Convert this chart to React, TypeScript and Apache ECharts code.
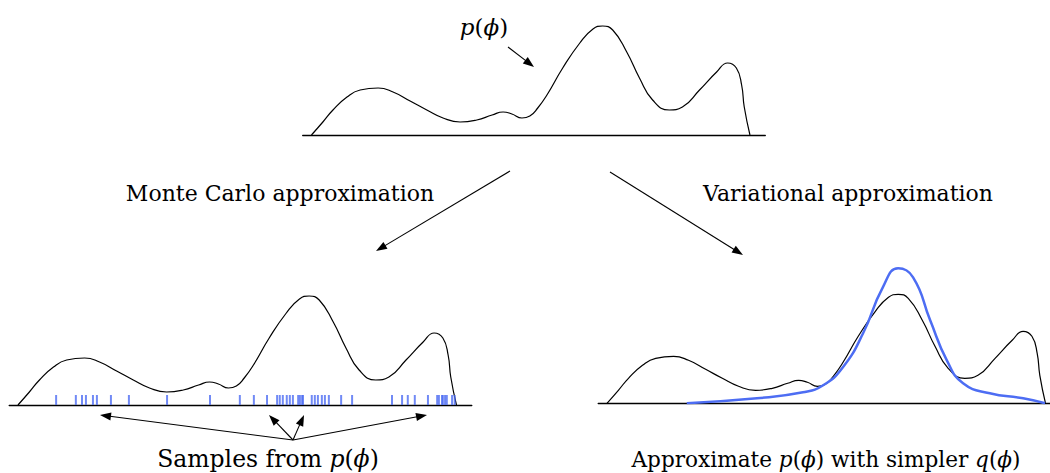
import React, { useEffect, useRef } from "react";
import * as echarts from "echarts";

// p(phi): density curve (phi in 0..100, density in arbitrary units)
const phiGrid = [0, 2.6, 4.9, 8.1, 11.1, 15.2, 18.6, 22.5, 26.3, 30.0, 33.9, 37.7, 41.2, 43.7, 45.7, 48.0, 49.8, 51.6, 53.7, 57.3, 61.2, 64.2, 66.4, 68.7, 71.9, 74.8, 77.8, 81.6, 84.6, 88.5, 92.4, 94.9, 96.9, 98.1, 98.7, 100];
const pDensity = [0, 0.13, 0.25, 0.38, 0.45, 0.47, 0.43, 0.34, 0.25, 0.17, 0.13, 0.15, 0.2, 0.23, 0.21, 0.17, 0.19, 0.27, 0.4, 0.67, 0.92, 1.06, 1.09, 1.05, 0.83, 0.57, 0.35, 0.25, 0.28, 0.45, 0.63, 0.72, 0.67, 0.5, 0.28, 0];

// q(phi): simpler variational approximation
const qPhi = [18.2, 34.2, 44.7, 49.3, 53.8, 58.4, 62.9, 66.4, 69.8, 73.7, 77.5, 81.2, 87.3, 94.9, 99.9];
const qDensity = [0, 0.05, 0.11, 0.18, 0.36, 0.7, 1.16, 1.35, 1.26, 0.83, 0.43, 0.2, 0.1, 0.05, 0];

// Monte Carlo samples drawn from p(phi)
const samples = [8.7, 13.2, 14.6, 15.5, 17.1, 18.0, 21.2, 25.3, 34.0, 43.8, 50.6, 53.8, 56.8, 59.1, 59.7, 60.4, 61.3, 62.0, 62.7, 63.9, 64.3, 64.8, 65.0, 67.0, 67.7, 68.4, 69.3, 70.0, 70.9, 73.7, 76.2, 85.3, 87.6, 88.9, 90.5, 93.5, 95.6, 96.0, 96.7, 96.9, 97.4, 97.8, 99.0, 99.6];

const labelTop = "p(ϕ)";
const labelMC = "Monte Carlo approximation";
const labelVar = "Variational approximation";
const labelSamples = "Samples from p(ϕ)";
const labelApprox = "Approximate p(ϕ) with simpler q(ϕ)";

const BLUE = "#4d6df3";
const FONT = "DejaVu Serif";

function zip(xs: number[], ys: number[]) {
  return xs.map((x, i) => [x, ys[i]]);
}

function arrow(x1: number, y1: number, x2: number, y2: number) {
  const dx = x2 - x1, dy = y2 - y1;
  const L = Math.hypot(dx, dy);
  const ux = dx / L, uy = dy / L;
  const hl = 11, hw = 4;
  const bx = x2 - ux * hl, by = y2 - uy * hl;
  const px = -uy, py = ux;
  return [
    { type: "line", shape: { x1, y1, x2: bx + ux, y2: by + uy }, style: { stroke: "#000", lineWidth: 1.1 } },
    {
      type: "polygon",
      shape: { points: [[x2, y2], [bx + px * hw, by + py * hw], [bx - px * hw, by - py * hw]] },
      style: { fill: "#000" },
    },
  ];
}

function mathText(s: string) {
  return s.replace(/([pq])\(ϕ\)/g, "{i|$1}({r|ϕ})").replace(/^([^{]+)\{/, "{r|$1}{").replace(/\}\(\{/g, "}{r|(}{").replace(/\}\)/g, "}{r|)}");
}

function text(s: string, x: number, y: number, size: number) {
  const hasMath = /\(ϕ\)/.test(s);
  const base = { fontSize: size, fontFamily: FONT, fill: "#000", lineHeight: size };
  return {
    type: "text",
    x,
    y,
    style: {
      text: hasMath ? s.replace(/([pq])\(ϕ\)/g, "{i|$1}({i|ϕ})") : s,
      fill: "#000",
      font: `${size}px "${FONT}"`,
      lineHeight: size,
      align: "center",
      verticalAlign: "middle",
      rich: { i: { ...base, fontStyle: "italic" } },
    },
  };
}

export default function App() {
  const ref = useRef<HTMLDivElement>(null);
  useEffect(() => {
    if (!ref.current) return;
    const chart = echarts.init(ref.current, undefined, { renderer: "svg" });
    const pData = zip(phiGrid, pDensity);
    const qData = zip(qPhi, qDensity);
    const xAxisBase = {
      type: "value",
      axisLine: { show: true, onZero: false, lineStyle: { color: "#000", width: 1.3 } },
      axisTick: { show: false },
      axisLabel: { show: false },
      splitLine: { show: false },
    };
    const yAxisBase = { type: "value", show: false, min: 0 };
    const lineBase = {
      type: "line",
      showSymbol: false,
      smooth: 0.5,
      lineStyle: { color: "#000", width: 1.2 },
      silent: true,
    };
    chart.setOption({
      animation: false,
      grid: [
        { left: 302.7, top: 15, width: 462.6, height: 120 },
        { left: 9.2, top: 285, width: 462.6, height: 120 },
        { left: 598.2, top: 253.3, width: 451.7, height: 150 },
      ],
      xAxis: [
        { ...xAxisBase, gridIndex: 0, min: -2, max: 103.5 },
        { ...xAxisBase, gridIndex: 1, min: -2, max: 103.5 },
        { ...xAxisBase, gridIndex: 2, min: -2, max: 101 },
      ],
      yAxis: [
        { ...yAxisBase, gridIndex: 0, max: 1.2 },
        { ...yAxisBase, gridIndex: 1, max: 1.2 },
        { ...yAxisBase, gridIndex: 2, max: 1.5 },
      ],
      series: [
        { ...lineBase, name: "p top", xAxisIndex: 0, yAxisIndex: 0, data: pData },
        { ...lineBase, name: "p MC", xAxisIndex: 1, yAxisIndex: 1, data: pData },
        {
          type: "scatter",
          name: "samples",
          xAxisIndex: 1,
          yAxisIndex: 1,
          symbol: "rect",
          symbolSize: [2, 10],
          itemStyle: { color: BLUE },
          data: samples.map((s) => [s, 0.05]),
          silent: true,
          z: 3,
        },
        { ...lineBase, name: "p VI", xAxisIndex: 2, yAxisIndex: 2, data: pData },
        {
          ...lineBase,
          name: "q VI",
          xAxisIndex: 2,
          yAxisIndex: 2,
          data: qData,
          lineStyle: { color: BLUE, width: 2.5 },
          z: 4,
        },
      ],
      graphic: [
        text(labelTop, 484, 27, 23),
        text(labelMC, 280, 193, 22),
        text(labelVar, 848, 193, 22),
        text(labelSamples, 268, 459, 23.5),
        text(labelApprox, 826, 459, 21.6),
        ...arrow(508, 47, 534, 67),
        ...arrow(510, 171, 376, 251),
        ...arrow(610, 172, 743, 255),
        ...arrow(293, 440, 100, 415),
        ...arrow(293, 440, 269, 415),
        ...arrow(293, 440, 304, 415),
        ...arrow(293, 440, 427, 415),
      ],
    });
    return () => chart.dispose();
  }, []);
  return (
    <div
      ref={ref}
      style={{ position: "absolute", left: 0, top: 0, width: 1050, height: 473, background: "#fff" }}
    />
  );
}
